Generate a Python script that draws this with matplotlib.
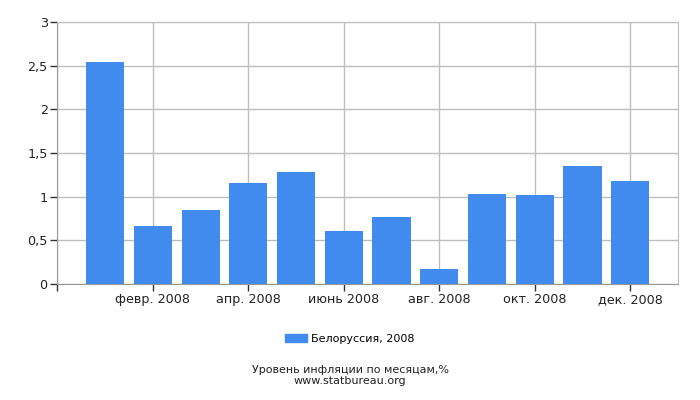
import matplotlib
matplotlib.use("Agg")
import matplotlib.pyplot as plt
from matplotlib.patches import Patch

months = list(range(1, 13))
values = [2.54, 0.66, 0.84, 1.15, 1.28, 0.60, 0.76, 0.165, 1.03, 1.015, 1.35, 1.18]
tick_pos = [0, 2, 4, 6, 8, 10, 12]
tick_labels = ["", "февр. 2008", "апр. 2008", "июнь 2008", "авг. 2008", "окт. 2008", "дек. 2008"]
y_ticks = [0, 0.5, 1, 1.5, 2, 2.5, 3]
y_labels = ["0", "0,5", "1", "1,5", "2", "2,5", "3"]

bar_color = "#428BEE"
grid_color = "#BEBEBE"
tick_size = 9.2
small_size = 8

plt.rcParams["font.family"] = "DejaVu Sans"

fig = plt.figure(figsize=(7, 4), dpi=100)
ax = fig.add_axes([0.082, 0.291, 0.8866, 0.653])

ax.bar(months, values, width=0.8, color=bar_color, zorder=3)
ax.set_xlim(0, 13)
ax.set_ylim(0, 3)
ax.set_xticks(tick_pos)
ax.set_xticklabels(tick_labels, fontsize=tick_size, color="#222222")
ax.set_yticks(y_ticks)
ax.set_yticklabels(y_labels, fontsize=tick_size, color="#222222")
ax.grid(axis="both", color=grid_color, linewidth=1, zorder=0)
ax.tick_params(axis="both", length=5, color="#333333", width=1, pad=2)
for side in ["top", "right"]:
    ax.spines[side].set_color(grid_color)
ax.spines["left"].set_color("#999999")
ax.spines["bottom"].set_color("#999999")

fig.legend(handles=[Patch(color=bar_color, label="Белоруссия, 2008")],
           loc="center", bbox_to_anchor=(0.5, 0.152), frameon=False,
           fontsize=small_size, handlelength=1.9, handleheight=0.7, handletextpad=0.4)

fig.text(0.5, 0.074, "Уровень инфляции по месяцам,%", ha="center", va="center",
         fontsize=small_size, color="#222222")
fig.text(0.5, 0.047, "www.statbureau.org", ha="center", va="center",
         fontsize=small_size, color="#222222")

fig.savefig("out.png", dpi=100)
